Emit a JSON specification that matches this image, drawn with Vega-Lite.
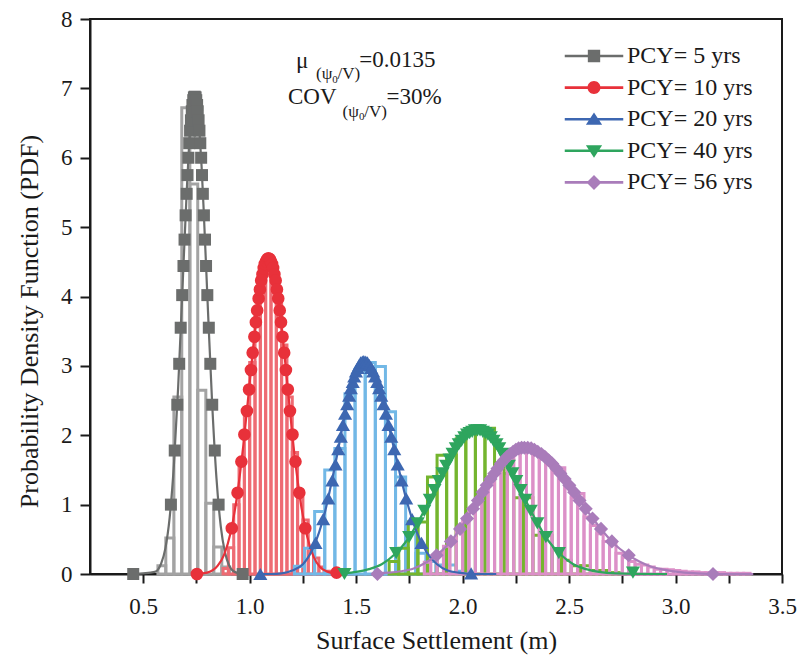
{
  "$schema": "https://vega.github.io/schema/vega-lite/v6.json",
  "width": 692,
  "height": 555,
  "autosize": {"type": "none"},
  "padding": {"left": 90, "top": 19, "right": 16, "bottom": 91},
  "background": "white",
  "config": {
    "view": {"stroke": "#1a1a1a", "strokeWidth": 2},
    "font": "Liberation Serif",
    "axis": {
      "labelFont": "Liberation Serif", "titleFont": "Liberation Serif",
      "labelFontSize": 23, "titleFontSize": 26, "titleFontWeight": "normal",
      "labelColor": "#1a1a1a", "titleColor": "#1a1a1a",
      "domainColor": "#1a1a1a", "tickColor": "#1a1a1a",
      "domainWidth": 2, "tickWidth": 2, "grid": false, "labelOverlap": false
    }
  },
  "datasets": {
    "hist": [
      {"s":"5","lo":0.569,"hi":0.606,"d":0.12},{"s":"5","lo":0.606,"hi":0.644,"d":0.52},{"s":"5","lo":0.644,"hi":0.681,"d":2.55},
      {"s":"5","lo":0.681,"hi":0.719,"d":6.72},{"s":"5","lo":0.719,"hi":0.756,"d":5.62},{"s":"5","lo":0.756,"hi":0.794,"d":2.65},
      {"s":"5","lo":0.794,"hi":0.831,"d":1.02},{"s":"5","lo":0.831,"hi":0.869,"d":0.39},{"s":"5","lo":0.869,"hi":0.906,"d":0.10},

      {"s":"10","lo":0.875,"hi":0.9,"d":0.08},{"s":"10","lo":0.9,"hi":0.925,"d":0.38},{"s":"10","lo":0.925,"hi":0.95,"d":1.00},
      {"s":"10","lo":0.95,"hi":0.975,"d":1.60},{"s":"10","lo":0.975,"hi":1.0,"d":2.30},{"s":"10","lo":1.0,"hi":1.025,"d":3.05},
      {"s":"10","lo":1.025,"hi":1.05,"d":3.75},{"s":"10","lo":1.05,"hi":1.075,"d":4.30},{"s":"10","lo":1.075,"hi":1.1,"d":4.50},
      {"s":"10","lo":1.1,"hi":1.125,"d":4.40},{"s":"10","lo":1.125,"hi":1.15,"d":3.95},{"s":"10","lo":1.15,"hi":1.175,"d":3.30},
      {"s":"10","lo":1.175,"hi":1.2,"d":2.55},{"s":"10","lo":1.2,"hi":1.225,"d":1.75},{"s":"10","lo":1.225,"hi":1.25,"d":1.10},
      {"s":"10","lo":1.25,"hi":1.275,"d":0.78},{"s":"10","lo":1.275,"hi":1.3,"d":0.32},{"s":"10","lo":1.3,"hi":1.325,"d":0.23},
      {"s":"10","lo":1.325,"hi":1.35,"d":0.10},{"s":"10","lo":1.35,"hi":1.375,"d":0.04},

      {"s":"20","lo":1.21,"hi":1.2575,"d":0.11},{"s":"20","lo":1.2575,"hi":1.305,"d":0.37},{"s":"20","lo":1.305,"hi":1.3525,"d":0.90},
      {"s":"20","lo":1.3525,"hi":1.4,"d":1.50},{"s":"20","lo":1.4,"hi":1.4475,"d":1.81},{"s":"20","lo":1.4475,"hi":1.495,"d":2.60},
      {"s":"20","lo":1.495,"hi":1.5425,"d":2.95},{"s":"20","lo":1.5425,"hi":1.59,"d":3.05},{"s":"20","lo":1.59,"hi":1.6375,"d":2.99},
      {"s":"20","lo":1.6375,"hi":1.685,"d":2.34},{"s":"20","lo":1.685,"hi":1.7325,"d":1.40},{"s":"20","lo":1.7325,"hi":1.78,"d":0.75},
      {"s":"20","lo":1.78,"hi":1.8275,"d":0.30},{"s":"20","lo":1.8275,"hi":1.875,"d":0.18},{"s":"20","lo":1.875,"hi":1.9225,"d":0.13},
      {"s":"20","lo":1.9225,"hi":1.97,"d":0.13},{"s":"20","lo":1.97,"hi":2.0175,"d":0.04},

      {"s":"40","lo":1.655,"hi":1.7,"d":0.18},{"s":"40","lo":1.7,"hi":1.745,"d":0.37},{"s":"40","lo":1.745,"hi":1.79,"d":0.75},
      {"s":"40","lo":1.79,"hi":1.835,"d":0.75},{"s":"40","lo":1.835,"hi":1.88,"d":1.40},{"s":"40","lo":1.88,"hi":1.925,"d":1.71},
      {"s":"40","lo":1.925,"hi":1.97,"d":1.71},{"s":"40","lo":1.97,"hi":2.015,"d":1.95},{"s":"40","lo":2.015,"hi":2.06,"d":2.05},
      {"s":"40","lo":2.06,"hi":2.105,"d":2.10},{"s":"40","lo":2.105,"hi":2.15,"d":2.10},{"s":"40","lo":2.15,"hi":2.195,"d":1.60},
      {"s":"40","lo":2.195,"hi":2.24,"d":1.45},{"s":"40","lo":2.24,"hi":2.285,"d":1.10},{"s":"40","lo":2.285,"hi":2.33,"d":1.10},
      {"s":"40","lo":2.33,"hi":2.375,"d":0.56},{"s":"40","lo":2.375,"hi":2.42,"d":0.56},{"s":"40","lo":2.42,"hi":2.465,"d":0.35},
      {"s":"40","lo":2.465,"hi":2.51,"d":0.20},{"s":"40","lo":2.51,"hi":2.555,"d":0.12},{"s":"40","lo":2.555,"hi":2.6,"d":0.12},
      {"s":"40","lo":2.6,"hi":2.645,"d":0.05},{"s":"40","lo":2.645,"hi":2.69,"d":0.05},{"s":"40","lo":2.69,"hi":2.735,"d":0.02},

      {"s":"56","lo":1.82,"hi":1.85,"d":0.17},{"s":"56","lo":1.85,"hi":1.88,"d":0.24},{"s":"56","lo":1.88,"hi":1.91,"d":0.31},
      {"s":"56","lo":1.91,"hi":1.94,"d":0.40},{"s":"56","lo":1.94,"hi":1.97,"d":0.51},{"s":"56","lo":1.97,"hi":2.0,"d":0.64},
      {"s":"56","lo":2.0,"hi":2.03,"d":0.77},{"s":"56","lo":2.03,"hi":2.06,"d":0.92},{"s":"56","lo":2.06,"hi":2.09,"d":1.08},
      {"s":"56","lo":2.09,"hi":2.12,"d":1.23},{"s":"56","lo":2.12,"hi":2.15,"d":1.38},{"s":"56","lo":2.15,"hi":2.18,"d":1.52},
      {"s":"56","lo":2.18,"hi":2.21,"d":1.64},{"s":"56","lo":2.21,"hi":2.24,"d":1.73},{"s":"56","lo":2.24,"hi":2.27,"d":1.79},
      {"s":"56","lo":2.27,"hi":2.3,"d":1.82},{"s":"56","lo":2.3,"hi":2.33,"d":1.81},{"s":"56","lo":2.33,"hi":2.36,"d":1.77},
      {"s":"56","lo":2.36,"hi":2.39,"d":1.74},{"s":"56","lo":2.39,"hi":2.42,"d":1.61},{"s":"56","lo":2.42,"hi":2.45,"d":1.50},
      {"s":"56","lo":2.45,"hi":2.48,"d":1.53},{"s":"56","lo":2.48,"hi":2.51,"d":1.25},{"s":"56","lo":2.51,"hi":2.54,"d":1.10},
      {"s":"56","lo":2.54,"hi":2.57,"d":1.16},{"s":"56","lo":2.57,"hi":2.6,"d":0.82},{"s":"56","lo":2.6,"hi":2.63,"d":0.70},
      {"s":"56","lo":2.63,"hi":2.66,"d":0.58},{"s":"56","lo":2.66,"hi":2.69,"d":0.47},{"s":"56","lo":2.69,"hi":2.72,"d":0.44},
      {"s":"56","lo":2.72,"hi":2.75,"d":0.30},{"s":"56","lo":2.75,"hi":2.78,"d":0.24},{"s":"56","lo":2.78,"hi":2.81,"d":0.18},
      {"s":"56","lo":2.81,"hi":2.84,"d":0.14},{"s":"56","lo":2.84,"hi":2.87,"d":0.13},{"s":"56","lo":2.87,"hi":2.9,"d":0.10},
      {"s":"56","lo":2.9,"hi":2.93,"d":0.07},{"s":"56","lo":2.93,"hi":2.96,"d":0.07},{"s":"56","lo":2.96,"hi":2.99,"d":0.06},
      {"s":"56","lo":2.99,"hi":3.02,"d":0.05},{"s":"56","lo":3.02,"hi":3.05,"d":0.04},{"s":"56","lo":3.05,"hi":3.08,"d":0.03},
      {"s":"56","lo":3.08,"hi":3.11,"d":0.03},{"s":"56","lo":3.11,"hi":3.14,"d":0.02},{"s":"56","lo":3.14,"hi":3.17,"d":0.02},
      {"s":"56","lo":3.17,"hi":3.2,"d":0.02},{"s":"56","lo":3.2,"hi":3.23,"d":0.02},{"s":"56","lo":3.23,"hi":3.26,"d":0.01},
      {"s":"56","lo":3.26,"hi":3.29,"d":0.01},{"s":"56","lo":3.29,"hi":3.32,"d":0.01},{"s":"56","lo":3.32,"hi":3.35,"d":0.01}
    ],
    "curve": [
      {"s":"5","x":0.453,"y":0},{"s":"5","x":0.554,"y":0.03},{"s":"5","x":0.584,"y":0.15},{"s":"5","x":0.604,"y":0.37},
      {"s":"5","x":0.624,"y":0.81},{"s":"5","x":0.644,"y":1.57},{"s":"5","x":0.664,"y":2.69},{"s":"5","x":0.684,"y":4.09},
      {"s":"5","x":0.704,"y":5.50},{"s":"5","x":0.714,"y":6.10},{"s":"5","x":0.724,"y":6.54},{"s":"5","x":0.734,"y":6.81},
      {"s":"5","x":0.742,"y":6.88},{"s":"5","x":0.754,"y":6.73},{"s":"5","x":0.764,"y":6.38},{"s":"5","x":0.774,"y":5.88},
      {"s":"5","x":0.784,"y":5.24},{"s":"5","x":0.804,"y":3.80},{"s":"5","x":0.824,"y":2.44},{"s":"5","x":0.844,"y":1.38},
      {"s":"5","x":0.864,"y":0.69},{"s":"5","x":0.884,"y":0.31},{"s":"5","x":0.904,"y":0.12},{"s":"5","x":0.924,"y":0.04},
      {"s":"5","x":0.954,"y":0.01},{"s":"5","x":0.984,"y":0},

      {"s":"10","x":0.752,"y":0},{"s":"10","x":0.80,"y":0.02},{"s":"10","x":0.85,"y":0.12},{"s":"10","x":0.88,"y":0.28},
      {"s":"10","x":0.91,"y":0.59},{"s":"10","x":0.94,"y":1.11},{"s":"10","x":0.97,"y":1.85},{"s":"10","x":1.00,"y":2.76},
      {"s":"10","x":1.03,"y":3.66},{"s":"10","x":1.06,"y":4.33},{"s":"10","x":1.075,"y":4.50},{"s":"10","x":1.088,"y":4.55},
      {"s":"10","x":1.10,"y":4.51},{"s":"10","x":1.12,"y":4.26},{"s":"10","x":1.15,"y":3.56},{"s":"10","x":1.18,"y":2.64},
      {"s":"10","x":1.21,"y":1.73},{"s":"10","x":1.24,"y":1.02},{"s":"10","x":1.27,"y":0.54},{"s":"10","x":1.30,"y":0.25},
      {"s":"10","x":1.33,"y":0.10},{"s":"10","x":1.36,"y":0.04},{"s":"10","x":1.42,"y":0},

      {"s":"20","x":1.05,"y":0},{"s":"20","x":1.10,"y":0},{"s":"20","x":1.15,"y":0.01},{"s":"20","x":1.20,"y":0.05},
      {"s":"20","x":1.25,"y":0.14},{"s":"20","x":1.30,"y":0.39},{"s":"20","x":1.35,"y":0.85},{"s":"20","x":1.40,"y":1.55},
      {"s":"20","x":1.45,"y":2.33},{"s":"20","x":1.50,"y":2.93},{"s":"20","x":1.52,"y":3.04},{"s":"20","x":1.536,"y":3.07},
      {"s":"20","x":1.555,"y":3.04},{"s":"20","x":1.58,"y":2.92},{"s":"20","x":1.63,"y":2.43},{"s":"20","x":1.68,"y":1.78},
      {"s":"20","x":1.73,"y":1.14},{"s":"20","x":1.78,"y":0.64},{"s":"20","x":1.83,"y":0.32},{"s":"20","x":1.88,"y":0.14},
      {"s":"20","x":1.93,"y":0.05},{"s":"20","x":1.98,"y":0.02},{"s":"20","x":2.05,"y":0},{"s":"20","x":2.158,"y":0},

      {"s":"40","x":1.445,"y":0.01},{"s":"40","x":1.50,"y":0.03},{"s":"40","x":1.56,"y":0.07},{"s":"40","x":1.62,"y":0.14},
      {"s":"40","x":1.68,"y":0.28},{"s":"40","x":1.74,"y":0.49},{"s":"40","x":1.80,"y":0.80},{"s":"40","x":1.86,"y":1.16},
      {"s":"40","x":1.92,"y":1.54},{"s":"40","x":1.98,"y":1.86},{"s":"40","x":2.04,"y":2.05},{"s":"40","x":2.07,"y":2.07},
      {"s":"40","x":2.10,"y":2.05},{"s":"40","x":2.16,"y":1.86},{"s":"40","x":2.22,"y":1.54},{"s":"40","x":2.28,"y":1.16},
      {"s":"40","x":2.34,"y":0.80},{"s":"40","x":2.40,"y":0.49},{"s":"40","x":2.46,"y":0.28},{"s":"40","x":2.52,"y":0.14},
      {"s":"40","x":2.58,"y":0.07},{"s":"40","x":2.64,"y":0.03},{"s":"40","x":2.72,"y":0.01},{"s":"40","x":2.96,"y":0},

      {"s":"56","x":1.60,"y":0.01},{"s":"56","x":1.65,"y":0.02},{"s":"56","x":1.71,"y":0.04},{"s":"56","x":1.77,"y":0.08},
      {"s":"56","x":1.83,"y":0.17},{"s":"56","x":1.89,"y":0.30},{"s":"56","x":1.95,"y":0.49},{"s":"56","x":2.01,"y":0.75},
      {"s":"56","x":2.07,"y":1.05},{"s":"56","x":2.13,"y":1.36},{"s":"56","x":2.19,"y":1.63},{"s":"56","x":2.25,"y":1.79},
      {"s":"56","x":2.29,"y":1.82},{"s":"56","x":2.35,"y":1.77},{"s":"56","x":2.41,"y":1.62},{"s":"56","x":2.47,"y":1.40},
      {"s":"56","x":2.53,"y":1.15},{"s":"56","x":2.59,"y":0.89},{"s":"56","x":2.65,"y":0.65},{"s":"56","x":2.71,"y":0.44},
      {"s":"56","x":2.77,"y":0.29},{"s":"56","x":2.83,"y":0.18},{"s":"56","x":2.89,"y":0.10},{"s":"56","x":2.95,"y":0.06},
      {"s":"56","x":3.01,"y":0.03},{"s":"56","x":3.10,"y":0.01},{"s":"56","x":3.20,"y":0},{"s":"56","x":3.365,"y":0}
    ],
    "pts": [
      {"s":"5","x":0.453,"y":0},{"s":"5","x":0.630,"y":1.00},{"s":"5","x":0.648,"y":1.78},{"s":"5","x":0.660,"y":2.44},
      {"s":"5","x":0.669,"y":3.03},{"s":"5","x":0.676,"y":3.55},{"s":"5","x":0.683,"y":4.02},{"s":"5","x":0.689,"y":4.44},
      {"s":"5","x":0.694,"y":4.82},{"s":"5","x":0.699,"y":5.17},{"s":"5","x":0.704,"y":5.48},{"s":"5","x":0.708,"y":5.75},
      {"s":"5","x":0.712,"y":6.00},{"s":"5","x":0.716,"y":6.21},{"s":"5","x":0.720,"y":6.39},{"s":"5","x":0.724,"y":6.54},
      {"s":"5","x":0.728,"y":6.67},{"s":"5","x":0.731,"y":6.76},{"s":"5","x":0.735,"y":6.83},{"s":"5","x":0.738,"y":6.87},
      {"s":"5","x":0.742,"y":6.88},{"s":"5","x":0.746,"y":6.87},{"s":"5","x":0.749,"y":6.83},{"s":"5","x":0.753,"y":6.76},
      {"s":"5","x":0.756,"y":6.67},{"s":"5","x":0.760,"y":6.54},{"s":"5","x":0.764,"y":6.39},{"s":"5","x":0.768,"y":6.21},
      {"s":"5","x":0.772,"y":6.00},{"s":"5","x":0.776,"y":5.75},{"s":"5","x":0.780,"y":5.48},{"s":"5","x":0.785,"y":5.17},
      {"s":"5","x":0.790,"y":4.82},{"s":"5","x":0.795,"y":4.44},{"s":"5","x":0.801,"y":4.02},{"s":"5","x":0.808,"y":3.55},
      {"s":"5","x":0.815,"y":3.03},{"s":"5","x":0.824,"y":2.44},{"s":"5","x":0.836,"y":1.78},{"s":"5","x":0.854,"y":1.00},
      {"s":"5","x":0.967,"y":0},

      {"s":"10","x":0.752,"y":0},{"s":"10","x":0.916,"y":0.66},{"s":"10","x":0.943,"y":1.17},{"s":"10","x":0.961,"y":1.62},
      {"s":"10","x":0.975,"y":2.01},{"s":"10","x":0.987,"y":2.35},{"s":"10","x":0.997,"y":2.66},{"s":"10","x":1.006,"y":2.94},
      {"s":"10","x":1.014,"y":3.19},{"s":"10","x":1.022,"y":3.42},{"s":"10","x":1.029,"y":3.63},{"s":"10","x":1.035,"y":3.80},
      {"s":"10","x":1.042,"y":3.97},{"s":"10","x":1.048,"y":4.10},{"s":"10","x":1.054,"y":4.23},{"s":"10","x":1.060,"y":4.32},
      {"s":"10","x":1.066,"y":4.41},{"s":"10","x":1.071,"y":4.47},{"s":"10","x":1.077,"y":4.51},{"s":"10","x":1.083,"y":4.54},
      {"s":"10","x":1.088,"y":4.55},{"s":"10","x":1.094,"y":4.54},{"s":"10","x":1.099,"y":4.51},{"s":"10","x":1.105,"y":4.47},
      {"s":"10","x":1.110,"y":4.41},{"s":"10","x":1.116,"y":4.32},{"s":"10","x":1.122,"y":4.23},{"s":"10","x":1.128,"y":4.10},
      {"s":"10","x":1.134,"y":3.97},{"s":"10","x":1.141,"y":3.80},{"s":"10","x":1.147,"y":3.63},{"s":"10","x":1.154,"y":3.42},
      {"s":"10","x":1.162,"y":3.19},{"s":"10","x":1.170,"y":2.94},{"s":"10","x":1.179,"y":2.66},{"s":"10","x":1.189,"y":2.35},
      {"s":"10","x":1.201,"y":2.01},{"s":"10","x":1.215,"y":1.62},{"s":"10","x":1.233,"y":1.17},{"s":"10","x":1.261,"y":0.66},
      {"s":"10","x":1.408,"y":0.02},

      {"s":"20","x":1.05,"y":0},{"s":"20","x":1.309,"y":0.45},{"s":"20","x":1.345,"y":0.79},{"s":"20","x":1.369,"y":1.09},
      {"s":"20","x":1.388,"y":1.35},{"s":"20","x":1.403,"y":1.58},{"s":"20","x":1.416,"y":1.80},{"s":"20","x":1.428,"y":1.98},
      {"s":"20","x":1.438,"y":2.15},{"s":"20","x":1.448,"y":2.31},{"s":"20","x":1.458,"y":2.45},{"s":"20","x":1.467,"y":2.57},
      {"s":"20","x":1.475,"y":2.68},{"s":"20","x":1.484,"y":2.77},{"s":"20","x":1.491,"y":2.85},{"s":"20","x":1.499,"y":2.92},
      {"s":"20","x":1.507,"y":2.97},{"s":"20","x":1.514,"y":3.01},{"s":"20","x":1.521,"y":3.05},{"s":"20","x":1.529,"y":3.06},
      {"s":"20","x":1.536,"y":3.07},{"s":"20","x":1.545,"y":3.06},{"s":"20","x":1.553,"y":3.05},{"s":"20","x":1.562,"y":3.01},
      {"s":"20","x":1.571,"y":2.97},{"s":"20","x":1.580,"y":2.92},{"s":"20","x":1.589,"y":2.85},{"s":"20","x":1.599,"y":2.77},
      {"s":"20","x":1.608,"y":2.68},{"s":"20","x":1.618,"y":2.57},{"s":"20","x":1.629,"y":2.45},{"s":"20","x":1.640,"y":2.31},
      {"s":"20","x":1.652,"y":2.15},{"s":"20","x":1.665,"y":1.98},{"s":"20","x":1.679,"y":1.80},{"s":"20","x":1.695,"y":1.58},
      {"s":"20","x":1.713,"y":1.35},{"s":"20","x":1.735,"y":1.09},{"s":"20","x":1.763,"y":0.79},{"s":"20","x":1.807,"y":0.45},
      {"s":"20","x":2.04,"y":0.01},

      {"s":"40","x":1.445,"y":0},{"s":"40","x":1.688,"y":0.30},{"s":"40","x":1.749,"y":0.53},{"s":"40","x":1.789,"y":0.73},
      {"s":"40","x":1.820,"y":0.91},{"s":"40","x":1.846,"y":1.07},{"s":"40","x":1.868,"y":1.21},{"s":"40","x":1.888,"y":1.34},
      {"s":"40","x":1.906,"y":1.45},{"s":"40","x":1.923,"y":1.56},{"s":"40","x":1.939,"y":1.65},{"s":"40","x":1.953,"y":1.73},
      {"s":"40","x":1.968,"y":1.81},{"s":"40","x":1.982,"y":1.87},{"s":"40","x":1.995,"y":1.92},{"s":"40","x":2.008,"y":1.97},
      {"s":"40","x":2.021,"y":2.01},{"s":"40","x":2.033,"y":2.03},{"s":"40","x":2.045,"y":2.05},{"s":"40","x":2.058,"y":2.07},
      {"s":"40","x":2.070,"y":2.07},{"s":"40","x":2.082,"y":2.07},{"s":"40","x":2.095,"y":2.05},{"s":"40","x":2.107,"y":2.03},
      {"s":"40","x":2.119,"y":2.01},{"s":"40","x":2.132,"y":1.97},{"s":"40","x":2.145,"y":1.92},{"s":"40","x":2.159,"y":1.87},
      {"s":"40","x":2.172,"y":1.81},{"s":"40","x":2.187,"y":1.73},{"s":"40","x":2.201,"y":1.65},{"s":"40","x":2.217,"y":1.56},
      {"s":"40","x":2.234,"y":1.45},{"s":"40","x":2.252,"y":1.34},{"s":"40","x":2.272,"y":1.21},{"s":"40","x":2.294,"y":1.07},
      {"s":"40","x":2.320,"y":0.91},{"s":"40","x":2.351,"y":0.73},{"s":"40","x":2.391,"y":0.53},{"s":"40","x":2.452,"y":0.30},
      {"s":"40","x":2.80,"y":0.02},

      {"s":"56","x":1.60,"y":0},{"s":"56","x":1.878,"y":0.27},{"s":"56","x":1.945,"y":0.47},{"s":"56","x":1.988,"y":0.65},
      {"s":"56","x":2.021,"y":0.80},{"s":"56","x":2.049,"y":0.94},{"s":"56","x":2.072,"y":1.06},{"s":"56","x":2.094,"y":1.18},
      {"s":"56","x":2.113,"y":1.28},{"s":"56","x":2.131,"y":1.37},{"s":"56","x":2.149,"y":1.45},{"s":"56","x":2.164,"y":1.52},
      {"s":"56","x":2.180,"y":1.59},{"s":"56","x":2.195,"y":1.64},{"s":"56","x":2.209,"y":1.69},{"s":"56","x":2.223,"y":1.73},
      {"s":"56","x":2.237,"y":1.76},{"s":"56","x":2.250,"y":1.79},{"s":"56","x":2.263,"y":1.81},{"s":"56","x":2.277,"y":1.82},
      {"s":"56","x":2.290,"y":1.82},{"s":"56","x":2.306,"y":1.82},{"s":"56","x":2.322,"y":1.81},{"s":"56","x":2.337,"y":1.79},
      {"s":"56","x":2.353,"y":1.76},{"s":"56","x":2.370,"y":1.73},{"s":"56","x":2.386,"y":1.69},{"s":"56","x":2.404,"y":1.64},
      {"s":"56","x":2.421,"y":1.59},{"s":"56","x":2.440,"y":1.52},{"s":"56","x":2.459,"y":1.45},{"s":"56","x":2.479,"y":1.37},
      {"s":"56","x":2.501,"y":1.28},{"s":"56","x":2.524,"y":1.18},{"s":"56","x":2.549,"y":1.06},{"s":"56","x":2.578,"y":0.94},
      {"s":"56","x":2.610,"y":0.80},{"s":"56","x":2.650,"y":0.65},{"s":"56","x":2.701,"y":0.47},{"s":"56","x":2.780,"y":0.27},
      {"s":"56","x":3.176,"y":0}
    ]
  },
  "layer": [
    {
      "data": {"name": "hist"}, "transform": [{"filter": "datum.s == '5'"}],
      "mark": {"type": "rect", "filled": false, "strokeWidth": 3, "stroke": "#a3a3a3"},
      "encoding": {
        "x": {
          "field": "lo", "type": "quantitative", "title": "Surface Settlement (m)",
          "scale": {"domain": [0.25, 3.5], "nice": false, "zero": false},
          "axis": {
            "values": [0.5,0.75,1,1.25,1.5,1.75,2,2.25,2.5,2.75,3,3.25,3.5],
            "labelExpr": "abs(datum.value*2 - round(datum.value*2)) < 0.001 ? format(datum.value, '.1f') : ''",
            "tickSize": 9,
            "encode": {"ticks": {"update": {"y2": {"signal": "abs(datum.value*2 - round(datum.value*2)) < 0.001 ? 9 : 5"}}}},
            "labelPadding": 12, "titlePadding": 9, "labelFlush": false
          }
        },
        "x2": {"field": "hi"},
        "y": {
          "field": "d", "type": "quantitative", "title": "Probability Density Function (PDF)",
          "scale": {"domain": [0, 8], "nice": false},
          "axis": {
            "values": [0,0.5,1,1.5,2,2.5,3,3.5,4,4.5,5,5.5,6,6.5,7,7.5,8],
            "labelExpr": "abs(datum.value - round(datum.value)) < 0.001 ? format(datum.value, 'd') : ''",
            "tickSize": 10,
            "encode": {"ticks": {"update": {"x2": {"signal": "abs(datum.value - round(datum.value)) < 0.001 ? -10 : -5"}}}},
            "labelPadding": 8, "titlePadding": 18, "titleY": 302, "labelFlush": false
          }
        },
        "y2": {"datum": 0}
      }
    },
    {
      "data": {"name": "hist"}, "transform": [{"filter": "datum.s == '10'"}],
      "mark": {"type": "rect", "filled": false, "strokeWidth": 3, "stroke": "#ee6b73"},
      "encoding": {"x": {"field": "lo", "type": "quantitative"}, "x2": {"field": "hi"}, "y": {"field": "d", "type": "quantitative"}, "y2": {"datum": 0}}
    },
    {
      "data": {"name": "hist"}, "transform": [{"filter": "datum.s == '20'"}],
      "mark": {"type": "rect", "filled": false, "strokeWidth": 3, "stroke": "#72b8e6"},
      "encoding": {"x": {"field": "lo", "type": "quantitative"}, "x2": {"field": "hi"}, "y": {"field": "d", "type": "quantitative"}, "y2": {"datum": 0}}
    },
    {
      "data": {"name": "hist"}, "transform": [{"filter": "datum.s == '40'"}],
      "mark": {"type": "rect", "filled": false, "strokeWidth": 3, "stroke": "#74b52e"},
      "encoding": {"x": {"field": "lo", "type": "quantitative"}, "x2": {"field": "hi"}, "y": {"field": "d", "type": "quantitative"}, "y2": {"datum": 0}}
    },
    {
      "data": {"name": "hist"}, "transform": [{"filter": "datum.s == '56'"}],
      "mark": {"type": "rect", "filled": false, "strokeWidth": 3, "stroke": "#dc90c8"},
      "encoding": {"x": {"field": "lo", "type": "quantitative"}, "x2": {"field": "hi"}, "y": {"field": "d", "type": "quantitative"}, "y2": {"datum": 0}}
    },
    {
      "data": {"name": "curve"}, "transform": [{"filter": "datum.s == '5'"}],
      "mark": {"type": "line", "strokeWidth": 2.2, "interpolate": "monotone", "color": "#6b6d6c"},
      "encoding": {"x": {"field": "x", "type": "quantitative"}, "y": {"field": "y", "type": "quantitative"}}
    },
    {
      "data": {"name": "pts"}, "transform": [{"filter": "datum.s == '5'"}],
      "mark": {"type": "point", "shape": "square", "filled": true, "size": 144, "opacity": 1, "strokeWidth": 0, "color": "#6b6d6c"},
      "encoding": {"x": {"field": "x", "type": "quantitative"}, "y": {"field": "y", "type": "quantitative"}}
    },
    {
      "data": {"name": "curve"}, "transform": [{"filter": "datum.s == '10'"}],
      "mark": {"type": "line", "strokeWidth": 2.2, "interpolate": "monotone", "color": "#e8313a"},
      "encoding": {"x": {"field": "x", "type": "quantitative"}, "y": {"field": "y", "type": "quantitative"}}
    },
    {
      "data": {"name": "pts"}, "transform": [{"filter": "datum.s == '10'"}],
      "mark": {"type": "point", "shape": "circle", "filled": true, "size": 160, "opacity": 1, "strokeWidth": 0, "color": "#e8313a"},
      "encoding": {"x": {"field": "x", "type": "quantitative"}, "y": {"field": "y", "type": "quantitative"}}
    },
    {
      "data": {"name": "curve"}, "transform": [{"filter": "datum.s == '20'"}],
      "mark": {"type": "line", "strokeWidth": 2.2, "interpolate": "monotone", "color": "#3d67b1"},
      "encoding": {"x": {"field": "x", "type": "quantitative"}, "y": {"field": "y", "type": "quantitative"}}
    },
    {
      "data": {"name": "pts"}, "transform": [{"filter": "datum.s == '20'"}],
      "mark": {"type": "point", "shape": "triangle-up", "filled": true, "size": 200, "opacity": 1, "strokeWidth": 0, "color": "#3d67b1"},
      "encoding": {"x": {"field": "x", "type": "quantitative"}, "y": {"field": "y", "type": "quantitative"}}
    },
    {
      "data": {"name": "curve"}, "transform": [{"filter": "datum.s == '40'"}],
      "mark": {"type": "line", "strokeWidth": 2.2, "interpolate": "monotone", "color": "#2ea55e"},
      "encoding": {"x": {"field": "x", "type": "quantitative"}, "y": {"field": "y", "type": "quantitative"}}
    },
    {
      "data": {"name": "pts"}, "transform": [{"filter": "datum.s == '40'"}],
      "mark": {"type": "point", "shape": "triangle-down", "filled": true, "size": 200, "opacity": 1, "strokeWidth": 0, "color": "#2ea55e"},
      "encoding": {"x": {"field": "x", "type": "quantitative"}, "y": {"field": "y", "type": "quantitative"}}
    },
    {
      "data": {"name": "curve"}, "transform": [{"filter": "datum.s == '56'"}],
      "mark": {"type": "line", "strokeWidth": 2.2, "interpolate": "monotone", "color": "#a97cba"},
      "encoding": {"x": {"field": "x", "type": "quantitative"}, "y": {"field": "y", "type": "quantitative"}}
    },
    {
      "data": {"name": "pts"}, "transform": [{"filter": "datum.s == '56'"}],
      "mark": {"type": "point", "shape": "diamond", "filled": true, "size": 200, "opacity": 1, "strokeWidth": 0, "color": "#a97cba"},
      "encoding": {"x": {"field": "x", "type": "quantitative"}, "y": {"field": "y", "type": "quantitative"}}
    },
    {
      "data": {"name": "pts"},
      "mark": {"type": "point", "filled": true, "size": 0, "opacity": 1, "strokeWidth": 0},
      "encoding": {
        "x": {"field": "x", "type": "quantitative"},
        "y": {"field": "y", "type": "quantitative"},
        "color": {
          "field": "s", "type": "nominal",
          "scale": {"domain": ["5","10","20","40","56"], "range": ["#6b6d6c","#e8313a","#3d67b1","#2ea55e","#a97cba"]},
          "legend": {
            "title": null, "orient": "none", "legendX": 492, "legendY": 25, "padding": 0,
            "symbolSize": 169, "symbolStrokeWidth": 0, "symbolOpacity": 1, "labelFont": "Liberation Serif", "labelFontSize": 24,
            "labelColor": "#1a1a1a", "labelOffset": 21, "rowPadding": 7.6, "labelLimit": 300,
            "labelExpr": "'PCY= ' + datum.label + ' yrs'"
          }
        },
        "shape": {
          "field": "s", "type": "nominal",
          "scale": {
            "domain": ["5","10","20","40","56"],
            "range": [
              "M-4.5,-0.2H-0.95V-0.95H0.95V-0.2H4.5V0.2H0.95V0.95H-0.95V0.2H-4.5Z",
              "M-4.5,-0.2H4.5V0.2H-4.5Z M1,0A1,1 0 1,1 -1,0A1,1 0 1,1 1,0Z",
              "M-4.5,-0.2H4.5V0.2H-4.5Z M0,-1.05L1.25,0.85H-1.25Z",
              "M-4.5,-0.2H4.5V0.2H-4.5Z M-1.25,-0.85H1.25L0,1.05Z",
              "M-4.5,-0.2H4.5V0.2H-4.5Z M0,-1.15L1.15,0L0,1.15L-1.15,0Z"
            ]
          },
          "legend": {
            "title": null, "orient": "none", "legendX": 492, "legendY": 25, "padding": 0,
            "symbolSize": 169, "symbolStrokeWidth": 0, "symbolOpacity": 1, "labelFont": "Liberation Serif", "labelFontSize": 24,
            "labelColor": "#1a1a1a", "labelOffset": 21, "rowPadding": 7.6, "labelLimit": 300,
            "labelExpr": "'PCY= ' + datum.label + ' yrs'"
          }
        }
      }
    },
    {
      "data": {"values": [{}]},
      "mark": {"type": "text", "align": "left", "baseline": "alphabetic", "font": "Liberation Serif", "fontSize": 23, "color": "#1a1a1a"},
      "encoding": {"x": {"datum": 1.217}, "y": {"datum": 7.295}, "text": {"value": "μ"}}
    },
    {
      "data": {"values": [{}]},
      "mark": {"type": "text", "align": "right", "baseline": "alphabetic", "font": "Liberation Serif", "fontSize": 17, "color": "#1a1a1a"},
      "encoding": {"x": {"datum": 1.388}, "y": {"datum": 7.129}, "text": {"value": "(ψ"}}
    },
    {
      "data": {"values": [{}]},
      "mark": {"type": "text", "align": "left", "baseline": "alphabetic", "font": "Liberation Serif", "fontSize": 11, "color": "#1a1a1a"},
      "encoding": {"x": {"datum": 1.388}, "y": {"datum": 7.084}, "text": {"value": "0"}}
    },
    {
      "data": {"values": [{}]},
      "mark": {"type": "text", "align": "left", "baseline": "alphabetic", "font": "Liberation Serif", "fontSize": 17, "color": "#1a1a1a"},
      "encoding": {"x": {"datum": 1.412}, "y": {"datum": 7.129}, "text": {"value": "/V)"}}
    },
    {
      "data": {"values": [{}]},
      "mark": {"type": "text", "align": "left", "baseline": "alphabetic", "font": "Liberation Serif", "fontSize": 23, "color": "#1a1a1a"},
      "encoding": {"x": {"datum": 1.515}, "y": {"datum": 7.303}, "text": {"value": "=0.0135"}}
    },
    {
      "data": {"values": [{}]},
      "mark": {"type": "text", "align": "left", "baseline": "alphabetic", "font": "Liberation Serif", "fontSize": 23, "color": "#1a1a1a"},
      "encoding": {"x": {"datum": 1.18}, "y": {"datum": 6.772}, "text": {"value": "COV"}}
    },
    {
      "data": {"values": [{}]},
      "mark": {"type": "text", "align": "right", "baseline": "alphabetic", "font": "Liberation Serif", "fontSize": 17, "color": "#1a1a1a"},
      "encoding": {"x": {"datum": 1.513}, "y": {"datum": 6.585}, "text": {"value": "(ψ"}}
    },
    {
      "data": {"values": [{}]},
      "mark": {"type": "text", "align": "left", "baseline": "alphabetic", "font": "Liberation Serif", "fontSize": 11, "color": "#1a1a1a"},
      "encoding": {"x": {"datum": 1.513}, "y": {"datum": 6.546}, "text": {"value": "0"}}
    },
    {
      "data": {"values": [{}]},
      "mark": {"type": "text", "align": "left", "baseline": "alphabetic", "font": "Liberation Serif", "fontSize": 17, "color": "#1a1a1a"},
      "encoding": {"x": {"datum": 1.538}, "y": {"datum": 6.585}, "text": {"value": "/V)"}}
    },
    {
      "data": {"values": [{}]},
      "mark": {"type": "text", "align": "left", "baseline": "alphabetic", "font": "Liberation Serif", "fontSize": 23, "color": "#1a1a1a"},
      "encoding": {"x": {"datum": 1.643}, "y": {"datum": 6.777}, "text": {"value": "=30%"}}
    }
  ]
}
